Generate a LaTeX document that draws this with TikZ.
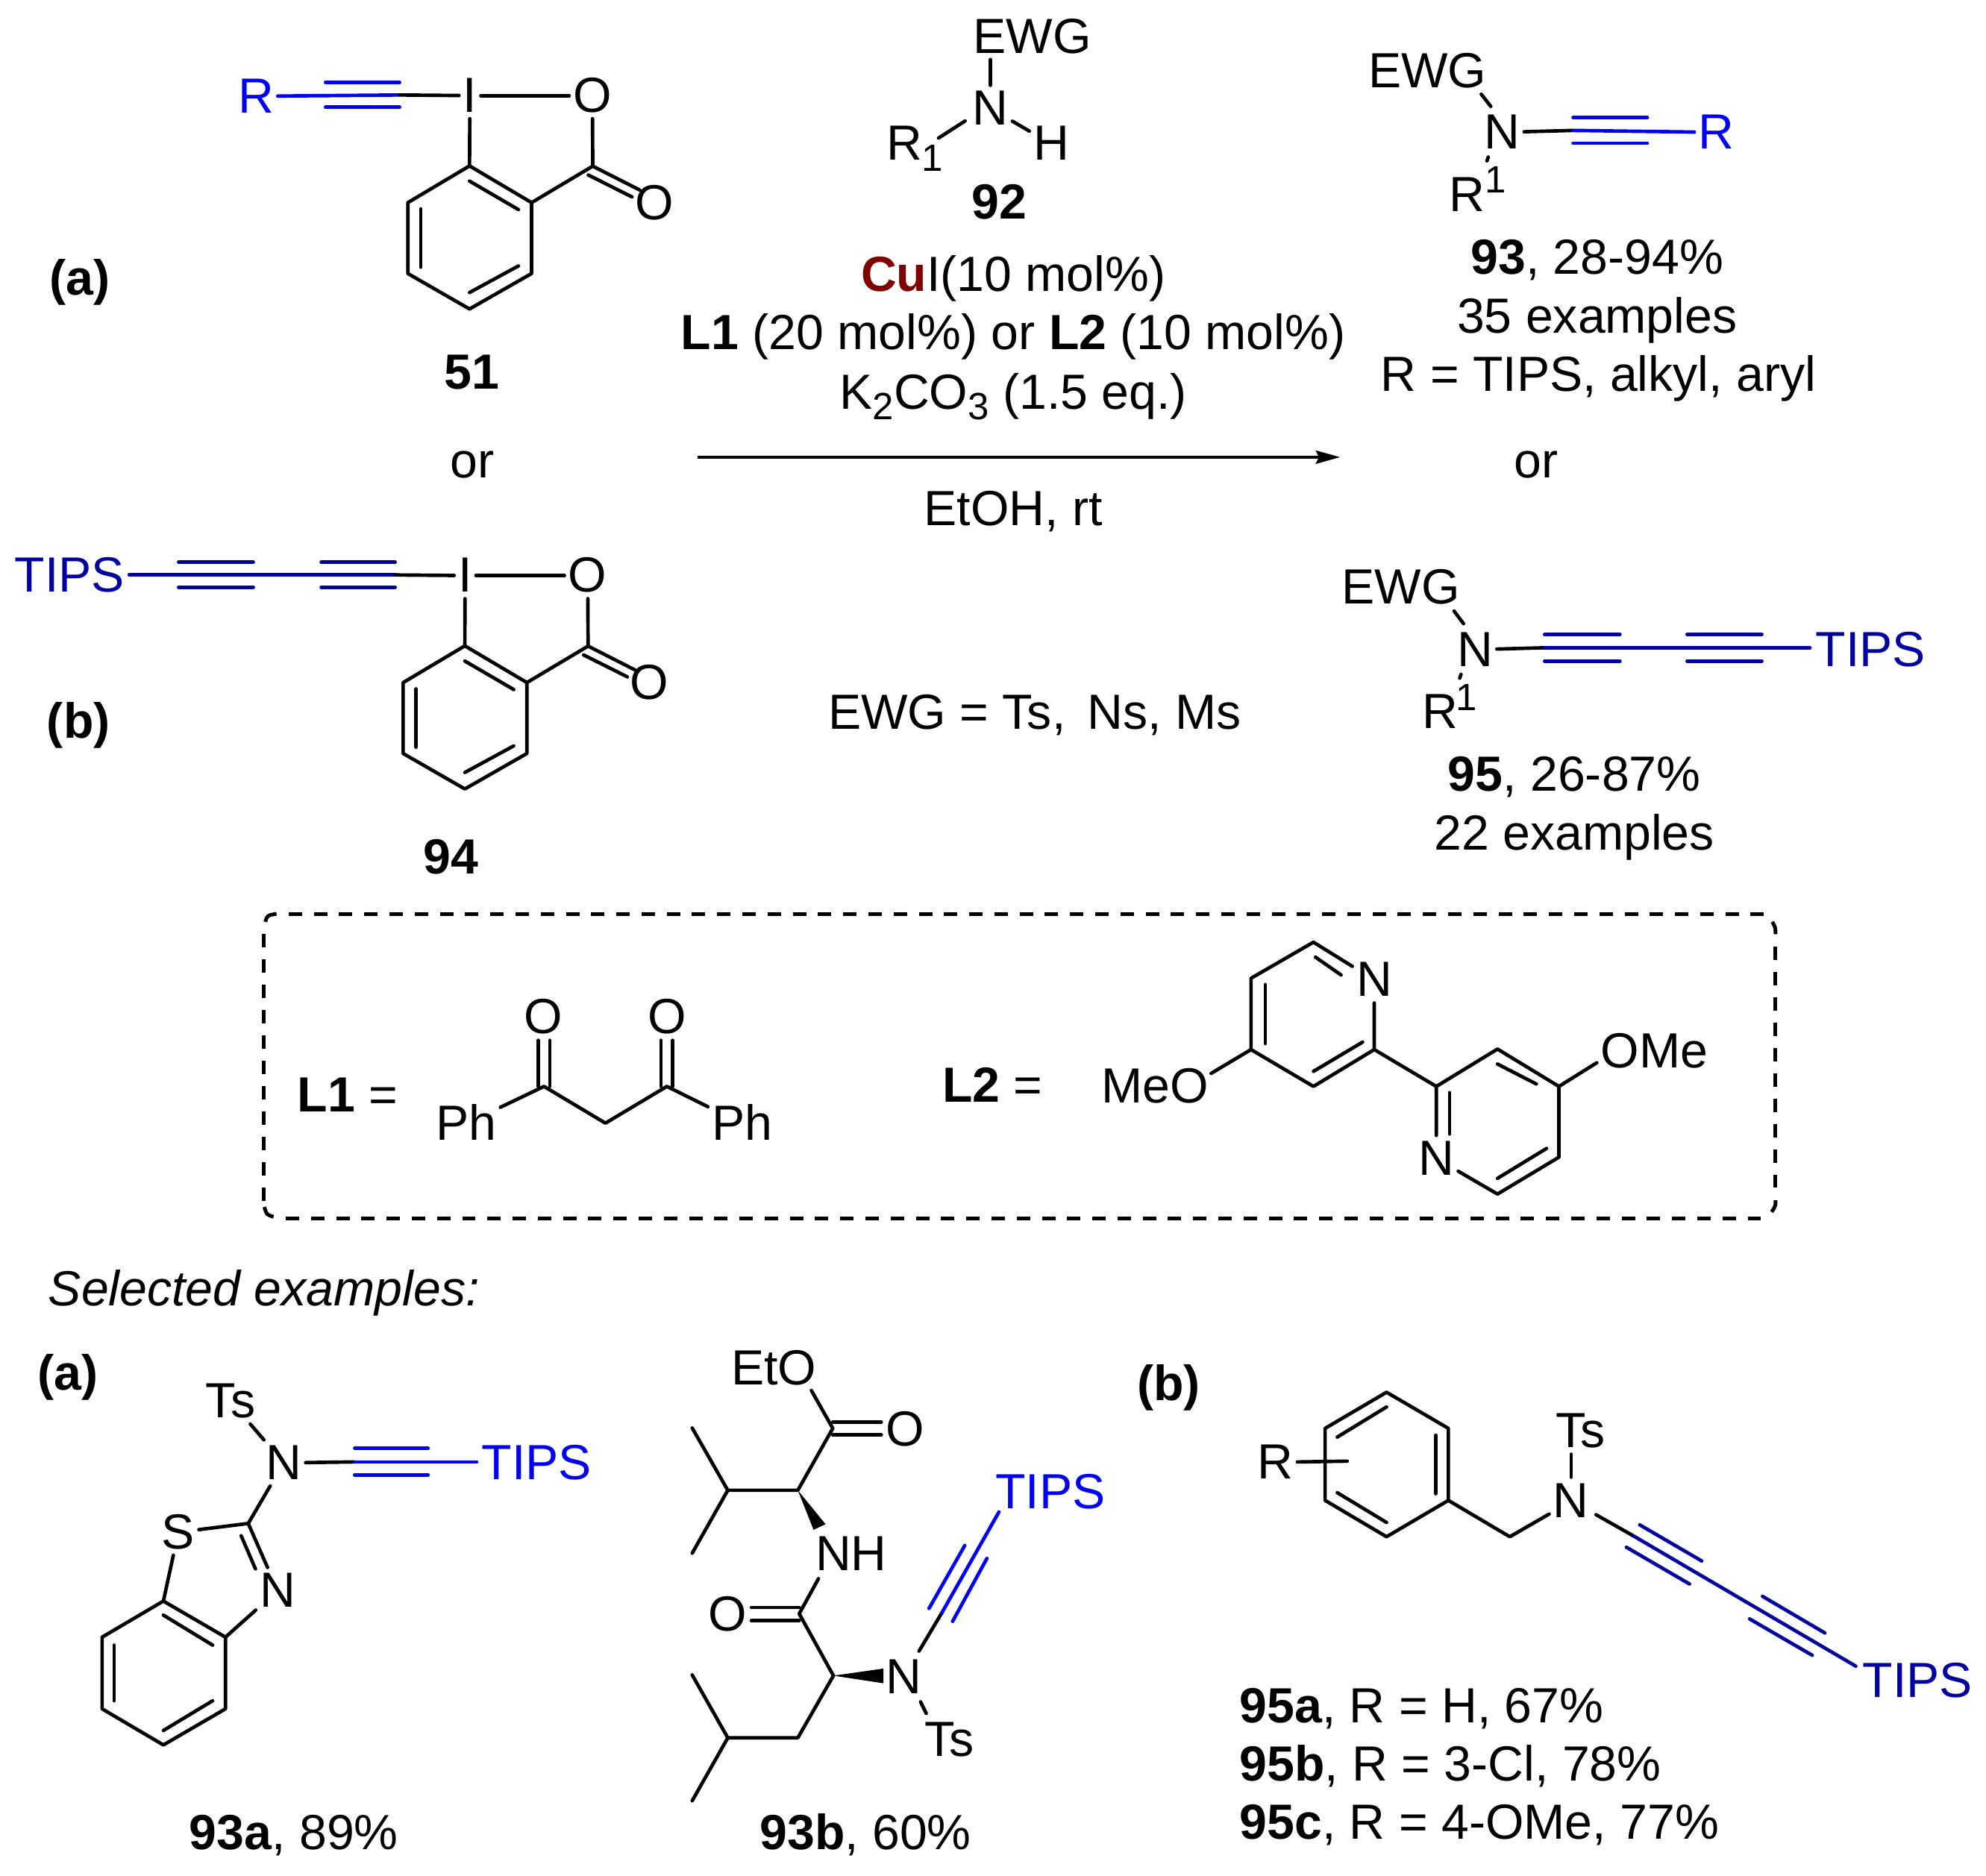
\documentclass[tikz,border=0pt]{standalone}
\usepackage{fontspec}
\setmainfont{Liberation Sans}
\usetikzlibrary{arrows.meta}
\definecolor{brightblue}{RGB}{0,0,245}
\definecolor{darkblue}{RGB}{0,0,160}
\definecolor{cudark}{RGB}{128,0,0}
\newcommand{\fs}{\fontsize{39}{46}\selectfont}
\newcommand{\fsb}{\fontsize{30}{33}\selectfont}
\newcommand{\sbs}[1]{\raisebox{-0.22em}{\fsb #1}}
\tikzset{
  lbl/.style={inner sep=0pt,text height=26pt,text depth=0pt,font=\fs},
  atom/.style={inner xsep=3pt,inner ysep=5pt,text height=26pt,text depth=0pt,font=\fs},
  idx/.style={inner sep=0pt,font=\fsb},
  bond/.style={line width=2.75pt,line join=round,line cap=round,black},
  bb/.style={bond,brightblue},
  db/.style={bond,darkblue},
  wedge/.style={fill=black,draw=none},
  fr/.style={line width=2.9pt,dash pattern=on 10.6pt off 9.3pt},
  frv/.style={line width=2.9pt,dash pattern=on 10.6pt off 9.42pt},
  frc/.style={line width=2.9pt},
  rxn/.style={line width=2.4pt,-{Stealth[length=19.2pt,width=10.4pt,inset=2.5pt]}}
}
\begin{document}
\begin{tikzpicture}[x=1pt,y=-1pt]
\useasboundingbox (0,0) rectangle (1568,1481);
% ---------- 51
\node[atom,brightblue] (R51) at (202,76) {R};
\node[atom] (I51) at (371,75.5) {I};
\node[atom] (O51) at (467.7,75.5) {O};
\node[atom] (Ok51) at (516.5,160.4) {O};
\coordinate (a51) at (257,75);
\coordinate (b51) at (315.5,75);
\coordinate (c51) at (468,131.2);
\coordinate (r1) at (370.7,131);
\coordinate (r2) at (419.7,160);
\coordinate (r3) at (419.7,216);
\coordinate (r4) at (370.7,244);
\coordinate (r5) at (322,216);
\coordinate (r6) at (322,160);
\draw[bb] (R51) -- (b51);
\draw[bb] (257,65) -- (315.5,65);
\draw[bb] (257,84.7) -- (315.5,84.7);
\draw[bond] (b51) -- (I51);
\draw[bond] (I51) -- (O51);
\draw[bond] (I51) -- (r1);
\draw[bond] (O51) -- (c51);
\draw[bond] (r1) -- (r2) -- (r3) -- (r4) -- (r5) -- (r6) -- cycle;
\draw[bond] (r2) -- (c51);
\draw[bond] (c51) -- (505,150);
\draw[bond] (464.5,138.2) -- (499,155.5);
\draw[bond] (370.7,143) -- (409.3,165.5);
\draw[bond] (409.3,210) -- (370.7,231);
\draw[bond] (332.2,165) -- (332.2,211);
\node[lbl,font=\fs\bfseries] (n51) at (372.7,294) {51};
\node[lbl] (or1) at (373,364) {or};
\node[lbl,font=\fs\bfseries] (la) at (63,220) {(a)};
% ---------- 94
\node[lbl,darkblue] (T94) at (55,454.5) {TIPS};
\node[atom] (I94) at (367.2,454.5) {I};
\node[atom] (O94) at (464,454.5) {O};
\node[atom] (Ok94) at (512.8,539.4) {O};
\coordinate (s94) at (102,454);
\coordinate (b94) at (312,454);
\coordinate (c94) at (464.3,510.2);
\coordinate (q1) at (367,510);
\coordinate (q2) at (416,539);
\coordinate (q3) at (416,595);
\coordinate (q4) at (367,623);
\coordinate (q5) at (318.3,595);
\coordinate (q6) at (318.3,539);
\draw[db] (s94) -- (b94);
\draw[db] (141,444) -- (200,444);
\draw[db] (141,463.7) -- (200,463.7);
\draw[db] (253.6,444) -- (312,444);
\draw[db] (253.6,463.7) -- (312,463.7);
\draw[bond] (b94) -- (I94);
\draw[bond] (I94) -- (O94);
\draw[bond] (I94) -- (q1);
\draw[bond] (O94) -- (c94);
\draw[bond] (q1) -- (q2) -- (q3) -- (q4) -- (q5) -- (q6) -- cycle;
\draw[bond] (q2) -- (c94);
\draw[bond] (c94) -- (501.3,529);
\draw[bond] (460.8,517.2) -- (495.3,534.5);
\draw[bond] (367,522) -- (405.6,544.5);
\draw[bond] (405.6,589) -- (367,610);
\draw[bond] (328.5,544) -- (328.5,590);
\node[lbl,font=\fs\bfseries] (n94) at (356,677) {94};
\node[lbl,font=\fs\bfseries] (lb) at (62,570) {(b)};
% ---------- 92 and conditions
\node[lbl] (E92) at (815,29) {EWG};
\node[atom] (N92) at (782,85.6) {N};
\node[atom] (H92) at (830,113.6) {H};
\node[atom] (R92) at (714,113.6) {R};
\node[idx] (s92) at (736,125) {1};
\coordinate (e92) at (782,47);
\draw[bond] (e92) -- (N92);
\draw[bond] (741,109) -- (762,95.5);
\draw[bond] (N92) -- (H92);
\node[lbl,font=\fs\bfseries] (n92) at (789,160) {92};
\node[lbl] (c1) at (800,217) {{\bfseries\color{cudark}Cu}I(10 mol\%)};
\node[lbl] (c2) at (800,263) {{\bfseries L1} (20 mol\%) or {\bfseries L2} (10 mol\%)};
\node[lbl] (c3) at (800,310) {K\sbs{2}CO\sbs{3} (1.5 eq.)};
\coordinate (arA) at (551,361);
\coordinate (arB) at (1058.1,361);
\draw[rxn] (arA) -- (arB);
\node[lbl] (c4) at (800,402) {EtOH, rt};
\node[lbl] (or2) at (1213,364) {or};
\node[lbl] (ewg) at (817,563) {EWG = Ts,\, Ns, Ms};
% ---------- 93
\node[lbl] (E93) at (1127,56) {EWG};
\node[atom] (N93) at (1186,104.5) {N};
\node[atom,brightblue] (R93) at (1355,104.5) {R};
\node[lbl] (Ra93) at (1158,154) {R};
\node[idx] (s93) at (1181,142) {1};
\coordinate (a93) at (1242,103);
\coordinate (e93) at (1169.5,74.4);
\coordinate (f93) at (1177,84);
\draw[bond] (e93) -- (f93);
\draw[bond] (1175,124) -- (1174,127);
\draw[bond] (N93) -- (a93);
\draw[bb] (a93) -- (R93);
\draw[bb] (1242,92.8) -- (1300.6,92.8);
\draw[bb] (1242,113) -- (1300.6,113);
\node[lbl] (t93a) at (1261,203.7) {{\bfseries 93}, 28-94\%};
\node[lbl] (t93b) at (1261,250) {35 examples};
\node[lbl] (t93c) at (1262,296) {R = TIPS, alkyl, aryl};
% ---------- 95
\node[lbl] (E95) at (1106,464) {EWG};
\node[atom] (N95) at (1164.5,513) {N};
\node[lbl,darkblue] (T95) at (1477,513) {TIPS};
\node[lbl] (Ra95) at (1137,562) {R};
\node[idx] (s95) at (1158,551) {1};
\coordinate (a95) at (1219.5,511.5);
\coordinate (z95) at (1429,511.5);
\coordinate (e95) at (1148,482.5);
\coordinate (f95) at (1155.5,492.5);
\draw[bond] (e95) -- (f95);
\draw[bond] (1153.5,532.5) -- (1152.5,535.5);
\draw[bond] (N95) -- (a95);
\draw[db] (a95) -- (z95);
\draw[db] (1219.5,501) -- (1279,501);
\draw[db] (1219.5,522) -- (1279,522);
\draw[db] (1332,501) -- (1391,501);
\draw[db] (1332,522) -- (1391,522);
\node[lbl] (t95a) at (1243,611.5) {{\bfseries 95}, 26-87\%};
\node[lbl] (t95b) at (1243,658) {22 examples};
% ---------- dashed box
\draw[fr] (227.9,721.6) -- (1392.4,721.6);
\draw[fr] (225.6,961.9) -- (1390.1,961.9);
\draw[frv] (208.1,737.4) -- (208.1,948.2);
\draw[frv] (1401.8,747.4) -- (1401.8,938);
\draw[frc] (209.5,727.9) .. controls (211,722.8) .. (218.3,721.6);
\draw[frc] (208.7,953.1) .. controls (210.5,959.3) .. (216,960.8);
\draw[frc] (1399.3,727.9) .. controls (1401.8,732.5) .. (1401.8,737.7);
\draw[frc] (1401.8,947.8) .. controls (1401.8,952.5) .. (1398.7,957);
% L1
\node[lbl] (L1) at (274.5,865) {{\bfseries L1} =};
\node[atom] (OA) at (428.7,803) {O};
\node[atom] (OB) at (526.5,803) {O};
\node[atom] (PhA) at (368,887.3) {Ph};
\node[atom] (PhB) at (586,887.3) {Ph};
\coordinate (cA) at (429.5,857.9);
\coordinate (cB) at (526.5,857.9);
\coordinate (cM) at (478,886.9);
\draw[bond] (PhA) -- (cA) -- (cM) -- (cB) -- (PhB);
\draw[bond] (424.8,857.9) -- (424.8,821.5);
\draw[bond] (434.2,857.9) -- (434.2,821.5);
\draw[bond] (521.8,857.9) -- (521.8,821.5);
\draw[bond] (531.2,857.9) -- (531.2,821.5);
% L2
\node[lbl] (L2) at (783.5,857) {{\bfseries L2} =};
\node[lbl] (MeO) at (911.7,858) {MeO};
\node[lbl] (OMe) at (1306,830) {OMe};
\node[atom] (NA) at (1085,773.8) {N};
\node[atom] (NB) at (1134,914.8) {N};
\coordinate (p1) at (1037,744);
\coordinate (p2) at (987.7,772.5);
\coordinate (p3) at (987.7,828.8);
\coordinate (p4) at (1037,857.9);
\coordinate (p5) at (1085,828.8);
\coordinate (u1) at (1134,857.9);
\coordinate (u2) at (1182.3,828.4);
\coordinate (u3) at (1230.8,857.9);
\coordinate (u4) at (1230.8,913.8);
\coordinate (u5) at (1182.3,942.9);
\coordinate (m1) at (956.2,847.6);
\coordinate (m2) at (1260.7,839.2);
\draw[bond] (NA) -- (p1) -- (p2) -- (p3) -- (p4) -- (p5) -- (NA);
\draw[bond] (p5) -- (u1) -- (u2) -- (u3) -- (u4) -- (u5) -- (NB) -- (u1);
\draw[bond] (p3) -- (m1);
\draw[bond] (u3) -- (m2);
\draw[bond] (1038.6,755.8) -- (1058.8,769.9);
\draw[bond] (999,777.4) -- (999,824);
\draw[bond] (1037,846) -- (1075.8,822.9);
\draw[bond] (1182.3,840.2) -- (1213,856);
\draw[bond] (1144.4,862.8) -- (1144.4,895.5);
\draw[bond] (1221,906.9) -- (1182.3,930.5);
% ---------- selected
\node[lbl,anchor=west,font=\fs\itshape] (sel) at (38,1018) {Selected examples:};
\node[lbl,font=\fs\bfseries] (la2) at (53.5,1084.5) {(a)};
\node[lbl,font=\fs\bfseries] (lb2) at (922.7,1093) {(b)};
% 93a
\node[atom] (Tsa) at (182,1106.3) {Ts};
\node[atom] (Na) at (224,1155.2) {N};
\node[lbl,brightblue] (Ta) at (423.7,1155.2) {TIPS};
\node[atom] (Sa) at (140.8,1209.9) {S};
\node[atom] (Nb) at (219.2,1256) {N};
\coordinate (ta1) at (280,1154.4);
\coordinate (ta2) at (376.3,1154.4);
\coordinate (C2) at (196,1203);
\coordinate (v1) at (129,1264.3);
\coordinate (v2) at (178,1292.8);
\coordinate (v3) at (178,1349.4);
\coordinate (v4) at (129,1377.9);
\coordinate (v5) at (80.6,1349.4);
\coordinate (v6) at (80.6,1292.8);
\draw[bond] (Tsa) -- (Na);
\draw[bond] (Na) -- (ta1);
\draw[bb] (ta1) -- (ta2);
\draw[bb] (280,1143.6) -- (338,1143.6);
\draw[bb] (280,1164.6) -- (338,1164.6);
\draw[bond] (Na) -- (C2);
\draw[bond] (Sa) -- (C2);
\draw[bond] (C2) -- (Nb);
\draw[bond] (190.4,1212.7) -- (201.7,1238.9);
\draw[bond] (Nb) -- (v2);
\draw[bond] (Sa) -- (v1);
\draw[bond] (v1) -- (v2) -- (v3) -- (v4) -- (v5) -- (v6) -- cycle;
\draw[bond] (129,1275.4) -- (167.9,1299.1);
\draw[bond] (167.9,1343) -- (129,1366.5);
\draw[bond] (90.1,1299.1) -- (90.1,1343);
\node[lbl] (t93x) at (232,1447.5) {{\bfseries 93a}, 89\%};
% 93b
\node[lbl] (Et) at (611,1080.6) {EtO};
\coordinate (eto) at (640.6,1098);
\node[atom] (Oe) at (714.4,1129) {O};
\node[lbl] (NHb) at (672,1227) {NH};
\node[atom] (Oam) at (574.6,1275) {O};
\node[atom] (Nc) at (713.8,1324.6) {N};
\node[atom] (Tsc) at (749.3,1373.7) {Ts};
\node[lbl,brightblue] (Tc) at (829.3,1178.1) {TIPS};
\coordinate (cE) at (657.5,1127.9);
\coordinate (ca) at (629.9,1176.8);
\coordinate (ip) at (574.6,1176.8);
\coordinate (me1) at (546.5,1127.6);
\coordinate (me2) at (546.5,1226.5);
\coordinate (nb) at (646.2,1246.6);
\coordinate (cAm) at (631,1274.3);
\coordinate (cb) at (658,1323.2);
\coordinate (ch2) at (629.9,1372.3);
\coordinate (cH) at (574.6,1372.3);
\coordinate (me3) at (546.5,1322.6);
\coordinate (me4) at (546.5,1422);
\coordinate (al1) at (743.7,1273.4);
\coordinate (al2) at (788.7,1193.9);
\draw[bond] (eto) -- (cE) -- (ca) -- (ip) -- (me1);
\draw[bond] (ip) -- (me2);
\draw[bond] (657.5,1122.9) -- (695.8,1122.9);
\draw[bond] (657.5,1133.1) -- (695.8,1133.1);
\fill[wedge] (ca) -- (651.8,1203.6) -- (642.3,1208) -- cycle;
\draw[bond] (nb) -- (cAm) -- (cb) -- (ch2) -- (cH) -- (me3);
\draw[bond] (cH) -- (me4);
\draw[bond] (593.2,1269.3) -- (631,1269.3);
\draw[bond] (593.2,1279.8) -- (631,1279.8);
\fill[wedge] (cb) -- (697.5,1317.6) -- (697.5,1329.2) -- cycle;
\draw[bond] (726.8,1343.9) -- (731.3,1353);
\draw[bond] (725.6,1303.8) -- (al1);
\draw[bb] (al1) -- (al2);
\draw[bb] (733.5,1270.1) -- (761.7,1220.4);
\draw[bb] (752.1,1280.3) -- (779.2,1230.6);
\node[lbl] (t93y) at (683.4,1447.5) {{\bfseries 93b}, 60\%};
% 95 family
\node[atom] (Rb) at (1007,1154.7) {R};
\node[atom] (Nd) at (1240.4,1185.6) {N};
\node[atom] (Tsd) at (1247.9,1129.8) {Ts};
\node[lbl,darkblue] (Td) at (1514,1327.3) {TIPS};
\coordinate (w1) at (1094.7,1099.4);
\coordinate (w2) at (1143.5,1127.9);
\coordinate (w3) at (1143.5,1184.8);
\coordinate (w4) at (1094.7,1213.5);
\coordinate (w5) at (1046.2,1184.8);
\coordinate (w6) at (1046.2,1127.9);
\coordinate (Rend) at (1063.7,1153.8);
\coordinate (ch) at (1192,1213.5);
\coordinate (nd1) at (1240.4,1148.3);
\coordinate (nd2) at (1240.4,1166.5);
\coordinate (dd1) at (1260.1,1196.1);
\coordinate (dd2) at (1289.4,1212.7);
\coordinate (dd3) at (1465.2,1315.7);
\draw[bond] (w1) -- (w2) -- (w3) -- (w4) -- (w5) -- (w6) -- cycle;
\draw[bond] (1094.7,1111) -- (1055.8,1134.8);
\draw[bond] (1133.5,1133.4) -- (1133.5,1179.5);
\draw[bond] (1055.8,1178.7) -- (1094.7,1202.2);
\draw[bond] (Rb) -- (Rend);
\draw[bond] (w3) -- (ch) -- (Nd);
\draw[bond] (nd1) -- (nd2);
\draw[bond] (dd1) -- (dd2);
\draw[db] (dd2) -- (dd3);
\draw[db] (1294.6,1204.1) -- (1343.5,1232.6);
\draw[db] (1284.1,1221.8) -- (1333.9,1250.8);
\draw[db] (1391.5,1260.5) -- (1440.8,1289.5);
\draw[db] (1381.4,1278.4) -- (1430.8,1307.1);
\node[lbl,anchor=west] (t1) at (978.6,1347.2) {{\bfseries 95a}, R = H, 67\%};
\node[lbl,anchor=west] (t2) at (978.6,1393) {{\bfseries 95b}, R = 3-Cl, 78\%};
\node[lbl,anchor=west] (t3) at (978.6,1439.2) {{\bfseries 95c}, R = 4-OMe, 77\%};
\end{tikzpicture}
\end{document}
